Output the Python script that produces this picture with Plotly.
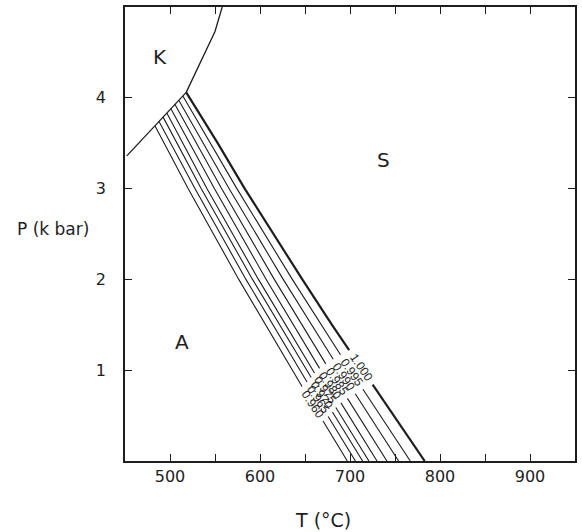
import numpy as np
import plotly.graph_objects as go

# ---- data (T in °C, P in kbar) ----
ka_T = [452, 483.4, 518]          # kyanite-andalusite boundary
ka_P = [3.36, 3.69, 4.06]
ks_T = [518, 533, 550, 558]       # kyanite-sillimanite boundary
ks_P = [4.06, 4.38, 4.73, 5.0]

# andalusite-sillimanite isopleths (P levels: start, 3, 2, 1, 0)
iso_labels = ["0.960", "0.965", "0.970", "0.975", "0.980", "0.985", "0.990", "0.995"]
iso_T = [
    [483.4, 520.1, 576.4, 635.7, 697],
    [487.8, 527.7, 584.4, 644.2, 706],
    [492.2, 534.6, 591.7, 651.9, 714],
    [496.6, 541.0, 598.3, 658.7, 721],
    [501.0, 549.3, 606.9, 667.4, 730],
    [505.4, 557.3, 615.9, 677.4, 741],
    [509.9, 565.6, 625.8, 688.9, 754],
    [514.3, 574.3, 635.9, 700.4, 767],
]
iso_P = [
    [3.69, 3.0, 2.0, 1.0, 0.0],
    [3.74, 3.0, 2.0, 1.0, 0.0],
    [3.79, 3.0, 2.0, 1.0, 0.0],
    [3.83, 3.0, 2.0, 1.0, 0.0],
    [3.88, 3.0, 2.0, 1.0, 0.0],
    [3.93, 3.0, 2.0, 1.0, 0.0],
    [3.97, 3.0, 2.0, 1.0, 0.0],
    [4.02, 3.0, 2.0, 1.0, 0.0],
]
as_label = "1.000"
as_T = [518, 553, 583, 615, 647, 680, 714, 749, 783]
as_P = [4.06, 3.5, 3.0, 2.5, 2.0, 1.5, 1.0, 0.5, 0.0]
label_P = [0.63, 0.68, 0.73, 0.78, 0.83, 0.88, 0.93, 0.98, 1.03]

region_names = ["K", "S", "A"]
region_T = [489, 737, 513]
region_P = [4.45, 3.32, 1.31]

x_ticks = [500, 550, 600, 650, 700, 750, 800, 850, 900]
x_ticktext = ["500", "", "600", "", "700", "", "800", "", "900"]
y_ticks = [1, 2, 3, 4]

INK = "#1e1e1e"
FONT = "DejaVu Sans"
HALF_GAP = 0.19

fig = go.Figure()


def split_line(T, P, pc):
    Pa = np.array(P[::-1], float)
    Ta = np.array(T[::-1], float)
    hi, lo = pc + HALF_GAP, pc - HALF_GAP
    upP = [p for p in P if p > hi] + [hi]
    loP = [lo] + [p for p in P if p < lo]
    upT = [float(np.interp(p, Pa, Ta)) for p in upP]
    loT = [float(np.interp(p, Pa, Ta)) for p in loP]
    return upT + [None] + loT, upP + [None] + loP, float(np.interp(pc, Pa, Ta))


fig.add_trace(go.Scatter(x=ka_T, y=ka_P, mode="lines",
                         line=dict(color=INK, width=1.3), showlegend=False))
fig.add_trace(go.Scatter(x=ks_T, y=ks_P, mode="lines",
                         line=dict(color=INK, width=1.3), showlegend=False))

all_T = iso_T + [as_T]
all_P = iso_P + [as_P]
all_lab = iso_labels + [as_label]
for i, (T, P, lab) in enumerate(zip(all_T, all_P, all_lab)):
    xs, ys, tc = split_line(T, P, label_P[i])
    thick = (i == len(all_T) - 1)
    fig.add_trace(go.Scatter(x=xs, y=ys, mode="lines", connectgaps=False,
                             line=dict(color=INK, width=2.2 if thick else 1.1),
                             showlegend=False))
    fig.add_annotation(x=tc, y=label_P[i], text=lab, showarrow=False,
                       textangle=56, font=dict(family="Liberation Sans", size=12, color=INK))

for name, t, p in zip(region_names, region_T, region_P):
    fig.add_annotation(x=t, y=p, text=name, showarrow=False,
                       font=dict(family=FONT, size=20, color=INK))

fig.add_annotation(x=670, y=0, yref="paper", yshift=-59, text="T (°C)", showarrow=False,
                   xanchor="center", yanchor="middle",
                   font=dict(family=FONT, size=19, color=INK))
fig.add_annotation(x=0, xref="paper", xshift=-72, y=2.56, text="P (k bar)", showarrow=False,
                   xanchor="center", yanchor="middle",
                   font=dict(family=FONT, size=17, color=INK))

fig.update_layout(
    width=582, height=532,
    margin=dict(l=125, r=5, t=7, b=71),
    plot_bgcolor="white", paper_bgcolor="white",
    font=dict(family=FONT, size=16, color=INK),
)
fig.update_xaxes(range=[450, 950], tickvals=x_ticks, ticktext=x_ticktext,
                 ticks="inside", ticklen=7, tickcolor=INK, tickwidth=1.3,
                 showline=True, linecolor=INK, linewidth=1.5, mirror="ticks",
                 showgrid=False, zeroline=False, tickfont=dict(size=16))
fig.update_yaxes(range=[0, 5], tickvals=y_ticks,
                 ticks="inside", ticklen=7, tickcolor=INK, tickwidth=1.3,
                 showline=True, linecolor=INK, linewidth=1.5, mirror="ticks",
                 showgrid=False, zeroline=False, tickfont=dict(size=16),
                 ticklabelstandoff=14)

fig.write_html("out.html", config={"displayModeBar": False},
               post_script="document.body.style.margin='0';")
